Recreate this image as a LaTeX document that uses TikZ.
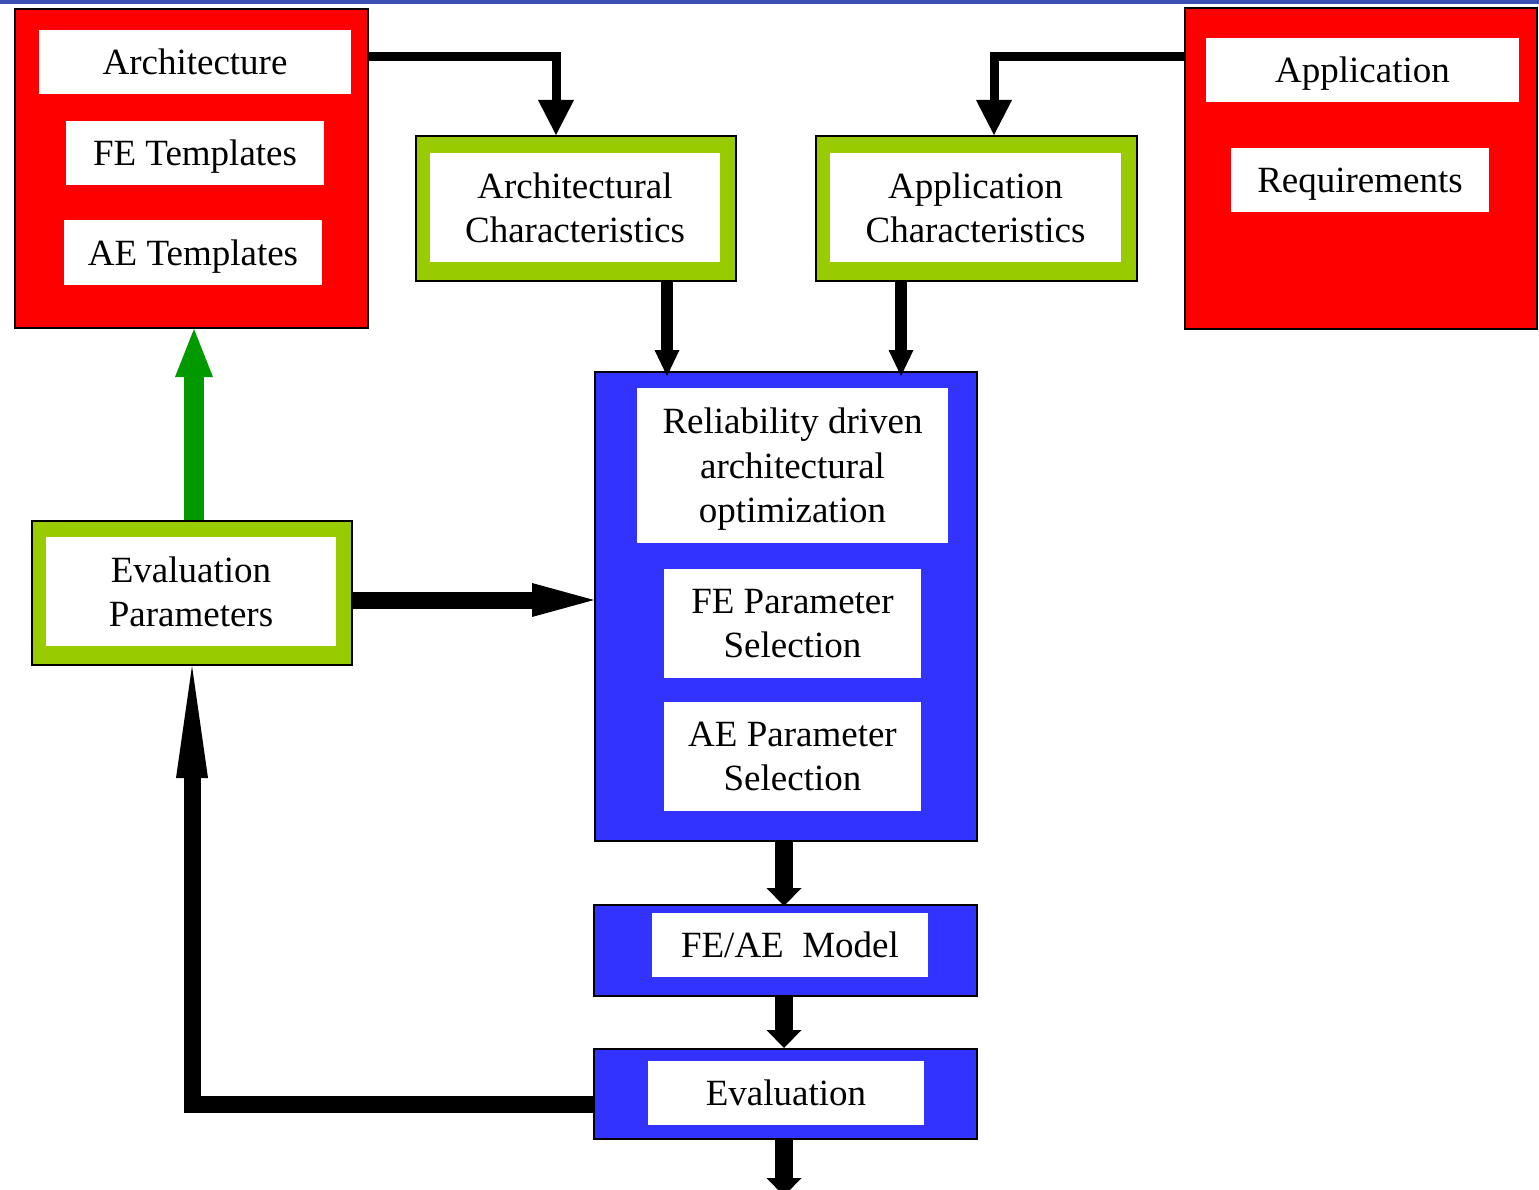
\documentclass[tikz,border=0pt]{standalone}
\usepackage{fontspec}
\setmainfont{Liberation Serif}
\usetikzlibrary{arrows.meta,calc}

\definecolor{hdrblue}{RGB}{60,80,180}
\definecolor{boxred}{RGB}{255,0,0}
\definecolor{boxgreen}{RGB}{153,204,0}
\definecolor{boxblue}{RGB}{51,51,255}
\definecolor{upgreen}{RGB}{0,153,0}

\tikzset{
  outerbox/.style={draw=black, line width=2pt, inner sep=0pt},
  redbox/.style={outerbox, fill=boxred},
  greenbox/.style={outerbox, fill=boxgreen},
  bluebox/.style={outerbox, fill=boxblue},
  label/.style={fill=white, inner sep=0pt, align=center, text depth=0pt,
    font=\fontsize{37}{44.4}\selectfont},
  feed/.style={draw=black, line width=9pt, line join=miter,
    -{Triangle[length=35pt,width=36pt,line width=0pt]}},
  drop/.style={draw=black, line width=12pt,
    -{Triangle[length=26pt,width=25pt,line width=0pt]}},
  flow/.style={draw=black, line width=18pt,
    -{Triangle[length=18pt,width=35pt,line width=0pt]}},
  push/.style={draw=black, line width=17pt,
    -{Triangle[length=62pt,width=34pt,line width=0pt]}},
  loop/.style={draw=black, line width=17pt, line join=miter,
    -{Triangle[length=112pt,width=32pt,line width=0pt]}},
  refine/.style={draw=upgreen, line width=20pt,
    -{Triangle[length=48pt,width=38pt,line width=0pt]}},
}

\begin{document}
\begin{tikzpicture}[x=1pt, y=-1pt]
  \useasboundingbox (0,0) rectangle (1539,1190);
  \clip (0,0) rectangle (1539,1190);

  % header rule
  \fill[hdrblue] (0,0) rectangle (1539,4);

  % architecture inputs
  \node[redbox, minimum width=353pt, minimum height=319pt] (redL) at (191.5,168.5) {};
  \node[label, minimum width=312pt, minimum height=64pt] (arch) at (195,62) {Architecture};
  \node[label, minimum width=258pt, minimum height=64pt] (feT) at (195,153) {FE Templates};
  \node[label, minimum width=258pt, minimum height=65pt] (aeT) at (193,252.5) {AE Templates};

  % application inputs
  \node[redbox, minimum width=352pt, minimum height=321pt] (redR) at (1361,168.5) {};
  \node[label, minimum width=313pt, minimum height=64pt] (app) at (1362.5,70) {Application};
  \node[label, minimum width=258pt, minimum height=64pt] (req) at (1360,180) {Requirements};

  % characteristics
  \node[greenbox, minimum width=320pt, minimum height=145pt] (archC) at (576,208.5) {};
  \node[label, minimum width=290pt, minimum height=109pt] (archCt) at (575,207.5) {Architectural\\Characteristics};
  \node[greenbox, minimum width=321pt, minimum height=145pt] (appC) at (976.5,208.5) {};
  \node[label, minimum width=291pt, minimum height=109pt] (appCt) at (975.5,207.5) {Application\\Characteristics};

  % evaluation parameters
  \node[greenbox, minimum width=320pt, minimum height=144pt] (evalP) at (192,593) {};
  \node[label, minimum width=290pt, minimum height=109pt] (evalPt) at (191,591.5) {Evaluation\\Parameters};

  % optimization block
  \node[bluebox, minimum width=382pt, minimum height=469pt] (opt) at (786,606.5) {};
  \node[label, minimum width=311pt, minimum height=155pt] (rel) at (792.5,465.5) {Reliability driven\\architectural\\optimization};
  \node[label, minimum width=257pt, minimum height=109pt] (feP) at (792.5,623.5) {FE Parameter\\Selection};
  \node[label, minimum width=257pt, minimum height=109pt] (aeP) at (792.5,756.5) {AE Parameter\\Selection};

  % model and evaluation
  \node[bluebox, minimum width=383pt, minimum height=91pt] (model) at (785.5,950.5) {};
  \node[label, minimum width=276pt, minimum height=64pt] (modelt) at (790,945) {FE/AE\ \ Model};
  \node[bluebox, minimum width=383pt, minimum height=90pt] (evalB) at (785.5,1094) {};
  \node[label, minimum width=276pt, minimum height=64pt] (evalBt) at (786,1093) {Evaluation};

  % routing levels and columns
  \coordinate (topLvl) at (0,57);
  \coordinate (archCol) at (556,0);
  \coordinate (appCol) at (994,0);
  \coordinate (dropA) at (667,0);
  \coordinate (dropB) at (901,0);
  \coordinate (pushLvl) at (0,600);
  \coordinate (loopLvl) at (0,1104.5);
  \coordinate (upCol) at (194,0);
  \coordinate (midCol) at (784,0);
  \coordinate (out) at (784,1196);

  % connectors
  \draw[feed] (redL.east |- topLvl) -| (archC.north -| archCol);
  \draw[feed] (redR.west |- topLvl) -| (appC.north -| appCol);
  \draw[drop] (archC.south -| dropA) -- ($(opt.north -| dropA)+(0,5)$);
  \draw[drop] (appC.south -| dropB) -- ($(opt.north -| dropB)+(0,5)$);
  \draw[push] (evalP.east |- pushLvl) -- (opt.west |- pushLvl);
  \draw[refine] (evalP.north -| upCol) -- (redL.south -| upCol);
  \draw[flow] (opt.south -| midCol) -- ($(model.north -| midCol)+(0,2)$);
  \draw[flow] (model.south -| midCol) -- (evalB.north -| midCol);
  \draw[flow] (evalB.south -| midCol) -- (out);
  \draw[loop] (evalB.west |- loopLvl) -| (evalP.south);
\end{tikzpicture}
\end{document}
